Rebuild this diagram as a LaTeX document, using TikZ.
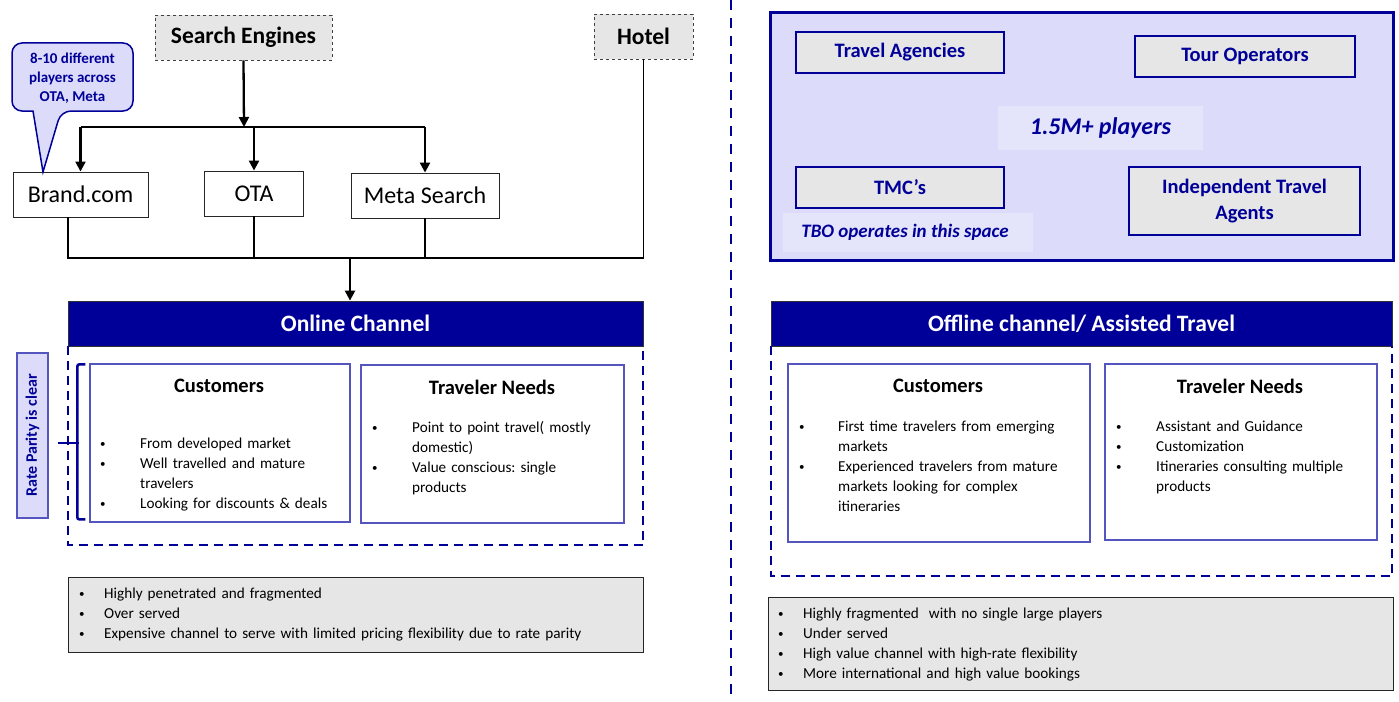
\documentclass[tikz,border=0pt]{standalone}
\usepackage{fontspec}
\setmainfont{Carlito}
\usetikzlibrary{arrows.meta}
\frenchspacing
\definecolor{navy}{HTML}{000099}
\definecolor{lav}{HTML}{DCDCFA}
\definecolor{lavl}{HTML}{E4E4FB}
\definecolor{gry}{HTML}{E6E6E6}
\definecolor{mblue}{HTML}{5555BF}
\newlength\myind
\newcommand\mybul{\raisebox{1pt}{\fontsize{11}{11}\selectfont\textbullet}}
\newcommand\bi[1]{\par\noindent\strut\makebox[\myind][l]{\mybul}#1}
\newcommand\bc[1]{\par\noindent\strut\hspace*{\myind}#1}
\begin{document}
\begin{tikzpicture}[x=1pt,y=-1pt,
  gbox/.style={draw=black!75,dashed,fill=gry,line width=0.8pt,font=\fontsize{23.5}{26}\selectfont\bfseries,inner sep=0},
  wbox/.style={draw=black!85,fill=white,line width=0.9pt,font=\fontsize{24}{26}\selectfont,inner sep=0},
  arr/.style={line width=2.3pt,-{Triangle[length=10pt,width=10pt]}},
  bus/.style={line width=1.8pt},
  header/.style={fill=navy,draw=black!80,line width=0.8pt,text=white,font=\fontsize{23.5}{26}\selectfont\bfseries,inner sep=0},
  dsh/.style={draw=navy,line width=2pt,dash pattern=on 9pt off 6pt},
  inner/.style={draw=mblue,line width=1.3pt,inner sep=0},
  ttl/.style={font=\fontsize{20.5}{24}\selectfont\bfseries,inner sep=0},
  lst/.style={anchor=north west,inner sep=0,text width=#1,align=left,font=\fontsize{15.2}{20}\selectfont},
  botbox/.style={draw=black!85,fill=gry,line width=0.9pt,inner sep=0},
  pbox/.style={draw=navy,fill=gry,line width=1.8pt,inner sep=0,text=navy,font=\fontsize{20.5}{26}\selectfont\bfseries,align=center},
  hl/.style={fill=lavl,inner sep=0,text=navy}
]
\useasboundingbox (0,0) rectangle (1399,701);

% ---------- left side ----------
\node[gbox,minimum width=177pt,minimum height=45pt] (search) at (243.5,37.5) {Search Engines};
\node[gbox,minimum width=99pt,minimum height=45pt] (hotel) at (643.5,36.5) {Hotel};

\node[wbox,minimum width=135pt,minimum height=45pt] (brand) at (80.5,194.5) {Brand.com};
\node[wbox,minimum width=99pt,minimum height=45pt] (ota) at (254,193.5) {OTA};
\node[wbox,minimum width=148pt,minimum height=45pt] (meta) at (425,195.5) {Meta Search};

% callout
\draw[draw=navy,fill=lav,line width=1.5pt]
  (12,60) [rounded corners=10pt] -- (12,43) -- (133,43) -- (133,111) -- (61,111) [sharp corners] -- (43,172) -- (33,111) [rounded corners=10pt] -- (12,111) -- (12,60);
\node[text=navy,align=center,font=\fontsize{15}{19}\selectfont\bfseries,inner sep=0] (callout) at (72.5,78) {8-10 different\\players across\\OTA, Meta};

% connectors top
\coordinate (j1) at (244,127);
\draw[arr] (search.south) -- (j1);
\draw[bus] (brand.north |- j1) -- (meta.north |- j1);
\draw[arr] (brand.north |- j1) -- (brand.north);
\draw[arr] (ota.north |- j1) -- (ota.north);
\draw[arr] (meta.north |- j1) -- (meta.north);

% online channel
\node[header,minimum width=575pt,minimum height=45pt] (online) at (355.5,323.5) {Online Channel};

\coordinate (j2) at (350,258);
\draw[bus] (brand.south -| online.west) -- (online.west |- j2) -- (hotel.south |- j2) -- (hotel.south);
\draw[bus] (ota.south) -- (ota.south |- j2);
\draw[bus] (meta.south) -- (meta.south |- j2);
\draw[arr] (j2) -- (online.north -| j2);

\draw[dsh] (online.south west) -- ++(0,199) -| (online.south east);

\node[inner,minimum width=260pt,minimum height=158pt] (oncust) at (220,443) {};
\node[inner,minimum width=263pt,minimum height=158pt] (onneed) at (492.5,444) {};
\node[ttl] (oncustt) at (219,386) {Customers};
\node[ttl] (onneedt) at (492,387) {Traveler Needs};

\node[lst=245pt] (oncustl) at (100,428) {\setlength\myind{40pt}%
\bi{From developed market}
\bi{Well travelled and mature}
\bc{travelers}
\bi{Looking for discounts \& deals}};
\node[lst=245pt] (onneedl) at (372,412) {\setlength\myind{40pt}%
\bi{Point to point travel( mostly}
\bc{domestic)}
\bi{Value conscious: single}
\bc{products}};

% rate parity
\node[draw=mblue,fill=lav,line width=1.3pt,rotate=90,minimum width=165pt,minimum height=31pt,inner sep=0,text=navy,font=\fontsize{16}{18}\selectfont\bfseries] (rate) at (32.5,435.5) {Rate Parity is clear};
\draw[draw=navy,line width=2.6pt,rounded corners=2pt] (oncust.north west) ++(-4,1) -- ++(-8,0) -- ++(0,155) -- ++(8,0);
\draw[draw=navy,line width=2.6pt] (rate.south) ++(9,7.5) -- ++(21,0);

\node[botbox,minimum width=575pt,minimum height=75pt] (onbot) at (355.5,614.5) {};
\node[lst=560pt] (onbotl) at (79,578) {\setlength\myind{25pt}%
\bi{Highly penetrated and fragmented}
\bi{Over served}
\bi{Expensive channel to serve with limited pricing flexibility due to rate parity}};

% divider
\coordinate (dtop) at (731,0);
\coordinate (dbot) at (731,701);
\draw[draw=navy,line width=2pt,dash pattern=on 10pt off 8pt] (dtop) -- (dbot);

% ---------- right side ----------
\node[draw=navy,fill=lav,line width=3pt,minimum width=623pt,minimum height=247pt,inner sep=0] (players) at (1081.5,136.5) {};
\node[hl,minimum width=205pt,minimum height=44pt,font=\fontsize{24}{26}\selectfont\bfseries\itshape] (count) at (1100.5,128) {1.5M+ players};
\node[hl,minimum width=250pt,minimum height=39pt,font=\fontsize{19}{22}\selectfont\bfseries\itshape] (tbo) at (908,232.5) {\hspace*{-6pt}TBO operates in this space};
\node[pbox,minimum width=208pt,minimum height=41pt] (ta) at (900,52.5) {Travel Agencies};
\node[pbox,minimum width=220pt,minimum height=41pt] (to) at (1245,56.5) {Tour Operators};
\node[pbox,minimum width=208pt,minimum height=41pt] (tmc) at (900,187.5) {TMC’s};
\node[pbox,minimum width=231pt,minimum height=68pt] (ita) at (1244.5,201) {Independent Travel\\Agents};

\node[header,minimum width=621pt,minimum height=45pt] (offline) at (1081.5,323.5) {Offline channel/ Assisted Travel};
\draw[dsh] (offline.south west) -- ++(0,230) -| (offline.south east);

\node[inner,minimum width=302pt,minimum height=178pt] (offcust) at (939,453) {};
\node[inner,minimum width=272pt,minimum height=176pt] (offneed) at (1241,452) {};
\node[ttl] (offcustt) at (938,386) {Customers};
\node[ttl] (offneedt) at (1240,386) {Traveler Needs};

\node[lst=285pt] (offcustl) at (799,411) {\setlength\myind{39pt}%
\bi{First time travelers from emerging}
\bc{markets}
\bi{Experienced travelers from mature}
\bc{markets looking for complex}
\bc{itineraries}};
\node[lst=260pt] (offneedl) at (1116,411) {\setlength\myind{40pt}%
\bi{Assistant and Guidance}
\bi{Customization}
\bi{Itineraries consulting multiple}
\bc{products}};

\node[botbox,minimum width=625pt,minimum height=93pt] (offbot) at (1080.5,643.5) {};
\node[lst=600pt] (offbotl) at (778,598) {\setlength\myind{25pt}%
\bi{Highly fragmented\ \ with no single large players}
\bi{Under served}
\bi{High value channel with high-rate flexibility}
\bi{More international and high value bookings}};
\end{tikzpicture}
\end{document}
